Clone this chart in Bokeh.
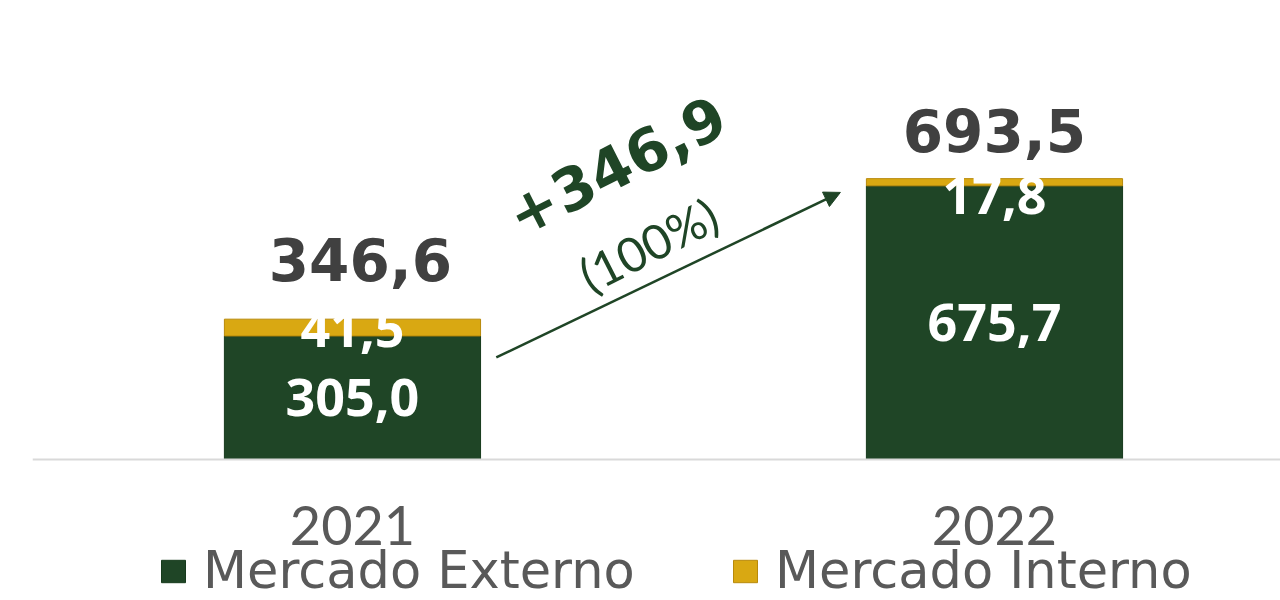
from bokeh.plotting import figure
from bokeh.models import (ColumnDataSource, Range1d, FixedTicker, Legend, LegendItem,
                          Arrow, NormalHead, Label, LinearAxis)
from bokeh.core.properties import value
from bokeh.embed import file_html
from bokeh.resources import INLINE

# ---- data ----
years = ["2021", "2022"]
externo = [305.0, 675.7]
interno = [41.5, 17.8]
totais = [346.6, 693.5]
externo_lbl = ["305,0", "675,7"]
interno_lbl = ["41,5", "17,8"]
total_lbl = ["346,6", "693,5"]
delta_lbl = "+346,9"
delta_pct_lbl = "(100%)"
series_names = ["Mercado Externo", "Mercado Interno"]

GREEN = "#1f4526"
GOLD = "#d9a812"
GRAY = "#595959"

xs = list(range(len(years)))
tops_int = [e + i for e, i in zip(externo, interno)]

src = ColumnDataSource(dict(
    x=xs, ext=externo, itop=tops_int, ibot=externo,
    ext_mid=[e / 2 for e in externo],
    ext_lbl=externo_lbl,
))

p = figure(width=1280, height=600, output_backend="svg", toolbar_location=None,
           x_range=Range1d(-0.4984, 1.4455), y_range=Range1d(-348.1, 1133.3),
           x_axis_location=None, y_axis_location=None,
           min_border_left=32, min_border_right=0,
           min_border_top=0, min_border_bottom=0)
p.outline_line_color = None
p.grid.visible = False
p.background_fill_color = "white"
p.border_fill_color = "white"

BW = 0.399
r_ext = p.vbar(x="x", top="ext", bottom=0, width=BW, source=src,
               fill_color=GREEN, line_color="#163a1c", line_width=1)
r_int = p.vbar(x="x", top="itop", bottom="ibot", width=BW, source=src,
               fill_color=GOLD, line_color="#b8890a", line_width=1)

# x axis, fixed on the zero line
ax = LinearAxis(fixed_location=0)
ax.ticker = FixedTicker(ticks=xs)
ax.major_label_overrides = {i: y for i, y in zip(xs, years)}
ax.major_tick_line_color = None
ax.minor_tick_line_color = None
ax.axis_line_color = "#d9d9d9"
ax.axis_line_width = 2
ax.major_label_text_font = "Lato"
ax.major_label_text_font_size = "54px"
ax.major_label_text_color = GRAY
ax.major_label_standoff = 40
p.add_layout(ax, "below")

# labels inside bars
p.text(x="x", y="ext_mid", text="ext_lbl", source=src, text_align="center",
       text_baseline="middle", text_color="white", text_font=value("Open Sans"),
       text_font_style="bold", text_font_size="52px")
p.text(x=xs, y=externo, text=interno_lbl, text_align="center",
       text_baseline="middle", text_color="white", text_font=value("Open Sans"),
       text_font_style="bold", text_font_size="52px", y_offset=[-7, 10])
# totals
p.text(x=xs, y=totais, text=total_lbl, text_align="center",
       text_baseline="bottom", text_color="#404040", text_font=value("DejaVu Sans"),
       text_font_style="bold", text_font_size="58px", y_offset=[-38, -27],
       x_offset=[8, 0])

# arrow of growth
p.add_layout(Arrow(end=NormalHead(size=16, fill_color=GREEN, line_color=GREEN),
                   x_start=xs[0] + 0.224, y_start=totais[0] * 0.727,
                   x_end=xs[1] - 0.240, y_end=totais[1] * 0.951,
                   line_color=GREEN, line_width=2.5))
ang = 0.47
p.add_layout(Label(x=0.411, y=totais[1] * 1.047, text=delta_lbl, angle=ang,
                   text_align="center", text_baseline="middle", text_color=GREEN,
                   text_font="DejaVu Sans", text_font_style="bold",
                   text_font_size="59px"))
p.add_layout(Label(x=0.461, y=totais[1] * 0.765, text=delta_pct_lbl, angle=ang,
                   text_align="center", text_baseline="middle", text_color=GREEN,
                   text_font="Lato", text_font_size="48px"))

# legends (two, placed below the axis labels)
for r, name, xloc in [(r_ext, series_names[0], 126), (r_int, series_names[1], 698)]:
    lg = Legend(items=[LegendItem(label=name, renderers=[r])], location=(xloc, 0),
                orientation="horizontal", padding=0, margin=0, spacing=0,
                glyph_width=30, glyph_height=28, label_height=28, label_standoff=15,
                label_text_font="DejaVu Sans", label_text_font_size="51px",
                label_text_color=GRAY, border_line_color=None,
                background_fill_alpha=0)
    p.add_layout(lg)

open("out.html", "w").write(file_html(p, INLINE))
